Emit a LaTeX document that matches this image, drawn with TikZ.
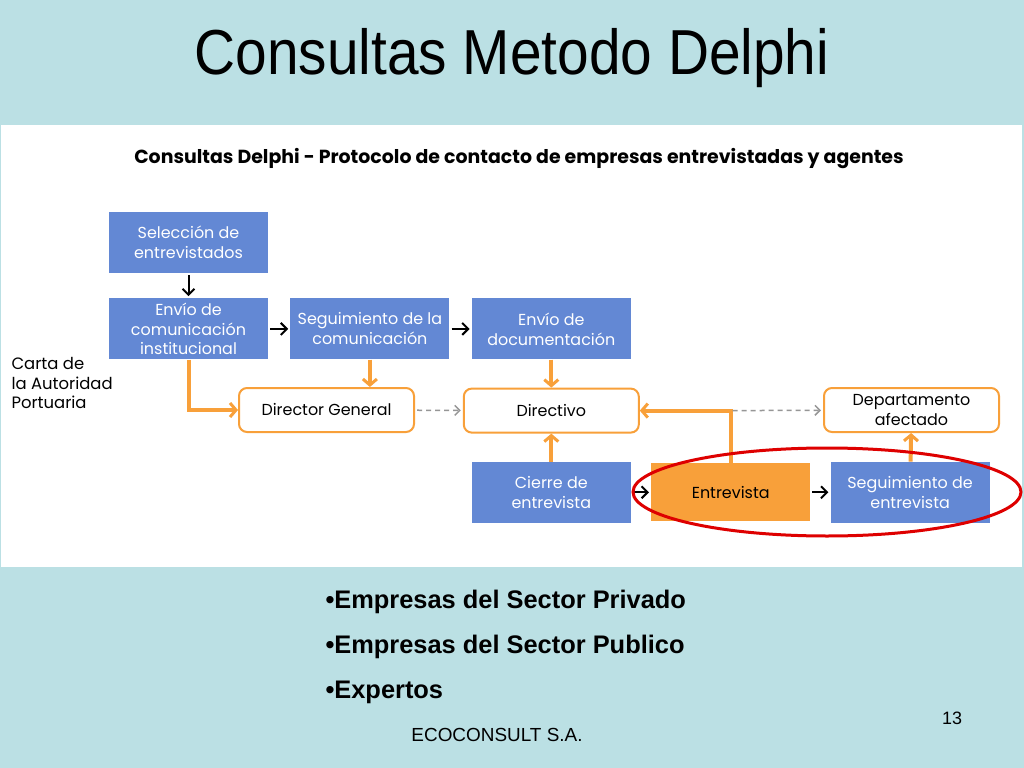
\documentclass[tikz,border=0pt]{standalone}
\usepackage{fontspec}
\setmainfont{Liberation Sans}
\newfontfamily\gothic{Poppins}
\usetikzlibrary{positioning,arrows.meta}
\definecolor{slidebg}{RGB}{187,224,228}
\definecolor{boxblue}{RGB}{99,136,212}
\definecolor{boxorange}{RGB}{248,160,58}
\definecolor{ringred}{RGB}{222,0,0}
\definecolor{dashgray}{RGB}{150,150,150}
\begin{document}
\begin{tikzpicture}[x=1bp,y=-1bp,node distance={25bp},
	blue/.style = {fill=boxblue, text=white, minimum width=159bp, minimum height=61bp, inner sep=0pt, align=center, font=\gothic\fontsize{16}{20}\selectfont},
	round/.style = {draw=boxorange, line width=2bp, fill=white, rounded corners=8bp, minimum width=175bp, minimum height=44bp, inner sep=0pt, align=center, font=\gothic\fontsize{16}{20}\selectfont},
	blk/.style = {-{Straight Barb[length=6bp,width=12bp,line width=2bp]}, line width=2bp, shorten <=2bp, shorten >=2bp},
	orng/.style = {boxorange, line width=4bp, -{Straight Barb[length=6bp,width=14bp,line width=3bp]}},
	dsh/.style = {dashgray, line width=1.5bp, dash pattern=on 5bp off 4bp, -{Straight Barb[length=5bp,width=10bp]}, shorten <=2bp, shorten >=2bp}]
	\useasboundingbox (0,0) rectangle (1024,768);
	\fill[slidebg] (0,0) rectangle (1024,768);
	\fill[white] (1,125) rectangle (1022,567);
	
	\node (title) at (512,58) {\scalebox{1}[1.12]{\fontsize{57}{60}\selectfont Consultas Metodo Delphi}};
	\node (sub) at (519,159) {\gothic\bfseries\fontsize{19}{20}\selectfont Consultas Delphi - Protocolo de contacto de empresas entrevistadas y agentes};
	
	\node[blue] (sel) at (188.5,242.5) {Selección de\\entrevistados};
	\node[blue] (envcom) [below=of sel] {Envío de\\comunicación\\institucional};
	\node[blue] (segcom) [right=22bp of envcom] {Seguimiento de la\\comunicación};
	\node[blue] (envdoc) [right=22bp of segcom] {Envío de\\documentación};
	\node[round] (dirgen) at (326.5,410) {Director General};
	\node[round] (directivo) [below=28bp of envdoc] {Directivo};
	\node[round] (depto) at (911.5,410) {Departamento\\afectado};
	\node[blue] (cierre) [below=28bp of directivo] {Cierre de\\entrevista};
	\node[blue, fill=boxorange, text=black, minimum height=58bp] (entrev) [right=20bp of cierre] {Entrevista};
	\node[blue] (segent) [right=20bp of entrev] {Seguimiento de\\entrevista};
	\node[align=left, anchor=west, font=\gothic\fontsize{16.5}{20}\selectfont] (carta) at (8,383) {Carta de\\la Autoridad\\Portuaria};
	
	\draw[blk] (sel)--(envcom);
	\draw[blk] (envcom)--(segcom);
	\draw[blk] (segcom)--(envdoc);
	\draw[blk] (cierre)--(entrev);
	\draw[blk] (entrev)--(segent);
	
	\draw[orng] (envcom.south) |- (dirgen.west);
	\draw[orng] (segcom.south) -- (segcom.south |- dirgen.north);
	\draw[orng] (envdoc)--(directivo);
	\draw[orng] (cierre)--(directivo);
	\draw[orng] (entrev.north) |- (directivo.east);
	\draw[orng] (segent)--(depto);
	\coordinate (knee) at (entrev.north |- directivo.east);
	\draw[dsh] (dirgen)--(directivo);
	\draw[dsh] (knee)--(depto);
	
	\draw[ringred, line width=3bp] (827,492) ellipse [x radius=194, y radius=44];
	
	\node[anchor=west, align=left, font=\bfseries\fontsize{25.5}{45}\selectfont] (list) at (322,647) {\textbullet Empresas del Sector Privado\\\textbullet Empresas del Sector Publico\\\textbullet Expertos};
	\node (eco) at (497,735) {\fontsize{19}{20}\selectfont ECOCONSULT S.A.};
	\node (page) at (952,718) {\fontsize{18}{20}\selectfont 13};
\end{tikzpicture}
\end{document}
